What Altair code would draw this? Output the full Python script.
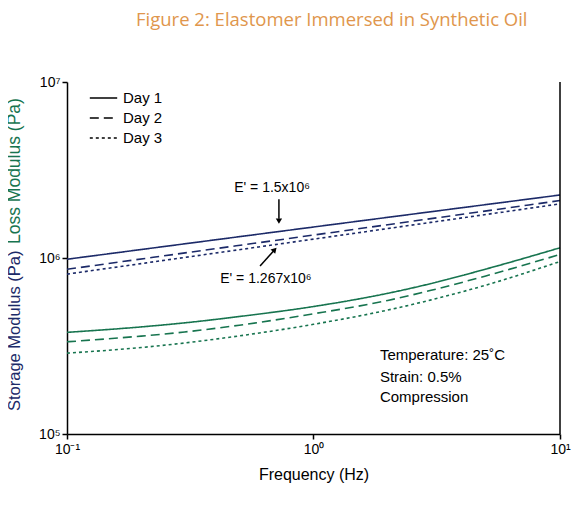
import altair as alt
import pandas as pd

# ---- data ----
storage_freq = [0.1, 1.0, 10.0]
storage_day1 = [9.84e5, 1.50e6, 2.28e6]
storage_day2 = [8.63e5, 1.35e6, 2.12e6]
storage_day3 = [8.10e5, 1.28e6, 2.03e6]

loss_freq = [0.1, 0.2, 0.3, 0.5, 1.0, 2.0, 3.0, 5.0, 10.0]
loss_day1 = [3.78e5, 4.06e5, 4.28e5, 4.65e5, 5.30e5, 6.30e5, 7.16e5, 8.65e5, 1.143e6]
loss_day2 = [3.34e5, 3.60e5, 3.80e5, 4.15e5, 4.82e5, 5.74e5, 6.55e5, 7.91e5, 1.047e6]
loss_day3 = [2.88e5, 3.10e5, 3.29e5, 3.61e5, 4.20e5, 5.06e5, 5.78e5, 7.01e5, 9.55e5]

days = ["Day 1", "Day 2", "Day 3"]
moduli = ["Storage", "Loss"]

rows = []
for mod, fr, series in [("Storage", storage_freq, [storage_day1, storage_day2, storage_day3]),
                        ("Loss", loss_freq, [loss_day1, loss_day2, loss_day3])]:
    for d, vals in zip(days, series):
        for f, v in zip(fr, vals):
            rows.append({"freq": f, "value": v, "day": d, "modulus": mod, "series": mod + d})
df = pd.DataFrame(rows)

NAVY = "#1c2a68"
GREEN = "#17744f"
FONT = "Liberation Sans"

xscale = alt.Scale(type="log", domain=[0.1, 10], nice=False)
yscale = alt.Scale(type="log", domain=[1e5, 1e7], nice=False)

x_axis = alt.Axis(values=[0.1, 1, 10], title="Frequency (Hz)", grid=False, labelFlush=False,
                  labelExpr="datum.value < 0.5 ? '10⁻¹' : datum.value < 5 ? '10⁰' : '10¹'",
                  labelFontSize=14, labelFont=FONT, labelColor="black", labelPadding=3,
                  titleFontSize=16, titleFont=FONT, titleFontWeight="normal", titleColor="black",
                  titlePadding=10, tickSize=5, tickColor="black", domainColor="black",
                  domainWidth=1.5, tickWidth=1.5)
y_axis = alt.Axis(values=[1e5, 1e6, 1e7], title=None, grid=False, labelFlush=False,
                  labelExpr="datum.value > 5e6 ? '10⁷' : datum.value > 5e5 ? '10⁶' : '10⁵'",
                  labelFontSize=14, labelFont=FONT, labelColor="black", labelPadding=2,
                  tickSize=5, tickColor="black", domainColor="black",
                  domainWidth=1.5, tickWidth=1.5)

lines = alt.Chart(df).mark_line(strokeWidth=1.6, interpolate="monotone").encode(
    x=alt.X("freq:Q", scale=xscale, axis=x_axis),
    y=alt.Y("value:Q", scale=yscale, axis=y_axis),
    color=alt.Color("modulus:N", scale=alt.Scale(domain=moduli, range=[NAVY, GREEN]), legend=None),
    strokeDash=alt.StrokeDash("day:N", scale=alt.Scale(domain=days, range=[[1, 0], [9, 5], [3, 3]]),
                              legend=alt.Legend(title=None, orient="none", legendX=22, legendY=8,
                                                symbolType="stroke", symbolSize=750,
                                                symbolStrokeColor="black", symbolStrokeWidth=1.6,
                                                labelFontSize=15, labelFont=FONT, labelColor="black",
                                                clipHeight=16, rowPadding=4, labelOffset=5)),
    detail="series:N",
)

right_edge = alt.Chart(pd.DataFrame({"freq": [10.0]})).mark_rule(color="black", strokeWidth=1.5).encode(
    x=alt.X("freq:Q", scale=xscale))

# annotations
ann_text = pd.DataFrame({
    "freq": [0.679, 0.641],
    "value": [2.5e6, 7.6e5],
    "label": ["E' = 1.5x10⁶", "E' = 1.267x10⁶"],
})
ann = alt.Chart(ann_text).mark_text(fontSize=14, font=FONT, color="black").encode(
    x=alt.X("freq:Q", scale=xscale), y=alt.Y("value:Q", scale=yscale), text="label:N")

arrows = pd.DataFrame({
    "f1": [0.724, 0.607], "v1": [2.16e6, 9.0e5],
    "f2": [0.724, 0.690], "v2": [1.67e6, 1.10e6],
})
arrow_lines = alt.Chart(arrows).mark_rule(color="black", strokeWidth=1.5).encode(
    x=alt.X("f1:Q", scale=xscale), y=alt.Y("v1:Q", scale=yscale), x2="f2:Q", y2="v2:Q")

heads = pd.DataFrame({"freq": [0.724, 0.696], "value": [1.62e6, 1.115e6], "ang": [180, 42]})
arrow_heads = alt.Chart(heads).mark_point(shape="triangle-up", filled=True, color="black",
                                          size=40, opacity=1).encode(
    x=alt.X("freq:Q", scale=xscale), y=alt.Y("value:Q", scale=yscale),
    angle=alt.Angle("ang:Q", scale=None))

cond = pd.DataFrame({
    "freq": [1.86, 1.86, 1.86],
    "value": [2.81e5, 2.11e5, 1.62e5],
    "label": ["Temperature: 25˚C", "Strain: 0.5%", "Compression"],
})
cond_text = alt.Chart(cond).mark_text(fontSize=15, font=FONT, color="black", align="left").encode(
    x=alt.X("freq:Q", scale=xscale), y=alt.Y("value:Q", scale=yscale), text="label:N")

ytitles = pd.DataFrame({"label": ["Storage Modulus (Pa)", "Loss Modulus (Pa)"],
                        "modulus": moduli})
ytitle_storage = alt.Chart(ytitles[ytitles.modulus == "Storage"]).mark_text(
    angle=270, align="left", baseline="middle", fontSize=16.5, font=FONT, color=NAVY).encode(
    x=alt.value(-52), y=alt.value(329), text="label:N")
ytitle_loss = alt.Chart(ytitles[ytitles.modulus == "Loss"]).mark_text(
    angle=270, align="left", baseline="middle", fontSize=17.5, font=FONT, color=GREEN).encode(
    x=alt.value(-52), y=alt.value(162), text="label:N")

chart = alt.layer(lines, right_edge, arrow_lines, arrow_heads, ann, cond_text,
                  ytitle_storage, ytitle_loss).properties(
    width=493, height=352,
    title=alt.TitleParams("Figure 2: Elastomer Immersed in Synthetic Oil", anchor="start", dx=130,
                          fontSize=18.5, font="Open Sans", fontWeight="normal", color="#e0964c",
                          offset=46),
    autosize=alt.AutoSizeParams(type="none"),
    padding={"left": 59, "top": 74, "right": 17, "bottom": 79},
).configure_view(stroke=None)

chart.save("out.html", embed_options={"renderer": "svg", "actions": False})
